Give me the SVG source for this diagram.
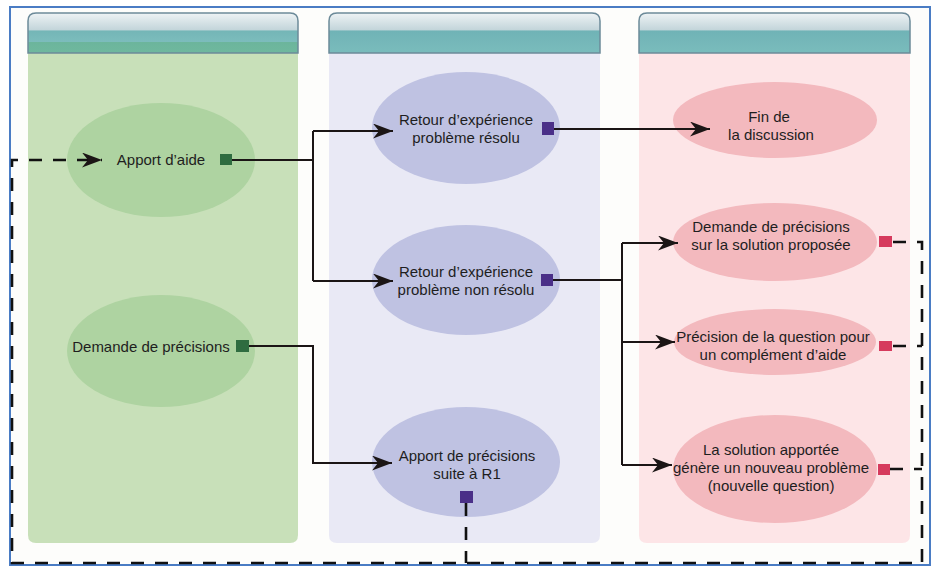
<svg xmlns="http://www.w3.org/2000/svg" width="931" height="567" viewBox="0 0 931 567">
<style>
  .t{font-family:"Liberation Sans",Arial,sans-serif;font-size:15px;fill:#1e1e1e;text-anchor:middle}
  .solid{fill:none;stroke:#1b1515;stroke-width:2}
  .dash{fill:none;stroke:#111;stroke-width:2.6;stroke-dasharray:13 11}
  .hdr{stroke:#6c8a99;stroke-width:1.5}
  .eg{fill:#aed3a1}
  .ep{fill:#bfc2e2}
  .er{fill:#f3b9be}
  .pg{fill:#2f6c40}
  .pp{fill:#4a2f88}
  .pr{fill:#d63a5d}
</style>
<defs>
  <marker id="arr" markerUnits="userSpaceOnUse" markerWidth="21" markerHeight="15" refX="20" refY="7.5" orient="auto">
    <path d="M0,0 L20,7.5 L0,15 L6,7.5 z" fill="#1b1515"/>
  </marker>
  <linearGradient id="hg1" x1="0" y1="13" x2="0" y2="53" gradientUnits="userSpaceOnUse">
    <stop offset="0" stop-color="#eef3f5"/>
    <stop offset="0.42" stop-color="#c3d5da"/>
    <stop offset="0.45" stop-color="#74b6b7"/>
    <stop offset="0.72" stop-color="#7cbcbc"/>
    <stop offset="0.73" stop-color="#6cb59c"/>
    <stop offset="1" stop-color="#6fb89e"/>
  </linearGradient>
  <linearGradient id="hg2" x1="0" y1="13" x2="0" y2="53" gradientUnits="userSpaceOnUse">
    <stop offset="0" stop-color="#eef3f5"/>
    <stop offset="0.42" stop-color="#c3d5da"/>
    <stop offset="0.45" stop-color="#70b3b6"/>
    <stop offset="1" stop-color="#7abcbc"/>
  </linearGradient>
</defs>
<rect x="0" y="0" width="931" height="567" fill="#ffffff"/>
<rect x="10" y="7" width="920" height="558" fill="#fdfdfb" stroke="#4a7cc4" stroke-width="2"/>

<g id="lane1">
  <path d="M28,53 H298 V535 Q298,543 290,543 H36 Q28,543 28,535 Z" fill="#c8e0b9"/>
  <path class="hdr" d="M28,53 V21 Q28,13 36,13 H290 Q298,13 298,21 V53 Z" fill="url(#hg1)"/>
</g>
<g id="lane2">
  <path d="M329,53 H600 V535 Q600,543 592,543 H337 Q329,543 329,535 Z" fill="#e9e9f5"/>
  <path class="hdr" d="M329,53 V21 Q329,13 337,13 H592 Q600,13 600,21 V53 Z" fill="url(#hg2)"/>
</g>
<g id="lane3">
  <path d="M639,53 H910 V535 Q910,543 902,543 H647 Q639,543 639,535 Z" fill="#fde5e7"/>
  <path class="hdr" d="M639,53 V21 Q639,13 647,13 H902 Q910,13 910,21 V53 Z" fill="url(#hg2)"/>
</g>

<g id="n-apport-aide">
  <ellipse class="eg" cx="161" cy="160" rx="94" ry="57"/>
  <text class="t" x="161" y="165">Apport d’aide</text>
  <rect class="pg" x="220" y="154" width="12" height="11"/>
</g>
<g id="n-demande-precisions">
  <ellipse class="eg" cx="161" cy="351" rx="94" ry="56"/>
  <text class="t" x="151" y="352">Demande de précisions</text>
  <rect class="pg" x="236" y="340" width="13" height="12"/>
</g>
<g id="n-retour-resolu">
  <ellipse class="ep" cx="466" cy="128" rx="94" ry="56"/>
  <text class="t" x="466" y="125">Retour d’expérience</text>
  <text class="t" x="466" y="143">problème résolu</text>
  <rect class="pp" x="542" y="122" width="12" height="13"/>
</g>
<g id="n-retour-non-resolu">
  <ellipse class="ep" cx="466" cy="280" rx="94" ry="55"/>
  <text class="t" x="466" y="277">Retour d’expérience</text>
  <text class="t" x="466" y="295">problème non résolu</text>
  <rect class="pp" x="541" y="274" width="12" height="12"/>
</g>
<g id="n-apport-precisions">
  <ellipse class="ep" cx="466" cy="462" rx="94" ry="55"/>
  <text class="t" x="467" y="461">Apport de précisions</text>
  <text class="t" x="467" y="479">suite à R1</text>
  <rect class="pp" x="460" y="491" width="13" height="12"/>
</g>
<g id="n-fin">
  <ellipse class="er" cx="775" cy="120" rx="102" ry="38"/>
  <text class="t" x="769" y="122">Fin de</text>
  <text class="t" x="771" y="140">la discussion</text>
</g>
<g id="n-demande-solution">
  <ellipse class="er" cx="775" cy="242" rx="102" ry="39"/>
  <text class="t" x="771" y="232">Demande de précisions</text>
  <text class="t" x="771" y="250">sur la solution proposée</text>
  <rect class="pr" x="879" y="236" width="13" height="11"/>
</g>
<g id="n-precision-question">
  <ellipse class="er" cx="775" cy="342" rx="101" ry="33"/>
  <text class="t" x="773" y="342">Précision de la question pour</text>
  <text class="t" x="773" y="360">un complément d’aide</text>
  <rect class="pr" x="879" y="341" width="13" height="10"/>
</g>
<g id="n-nouveau-probleme">
  <ellipse class="er" cx="775" cy="469" rx="102" ry="54"/>
  <text class="t" x="771" y="455">La solution apportée</text>
  <text class="t" x="771" y="473">génère un nouveau problème</text>
  <text class="t" x="771" y="491">(nouvelle question)</text>
  <rect class="pr" x="878" y="464" width="12" height="11"/>
</g>

<g id="connectors">
  <path class="solid" d="M232,160 H313"/>
  <path class="solid" d="M313,131 V281"/>
  <path class="solid" d="M313,131 H393" marker-end="url(#arr)"/>
  <path class="solid" d="M313,281 H393" marker-end="url(#arr)"/>
  <path class="solid" d="M249,346 H313 V463 H392" marker-end="url(#arr)"/>
  <path class="solid" d="M554,129 H710" marker-end="url(#arr)"/>
  <path class="solid" d="M553,280 H622"/>
  <path class="solid" d="M622,243 V465"/>
  <path class="solid" d="M622,243 H678" marker-end="url(#arr)"/>
  <path class="solid" d="M622,342 H675" marker-end="url(#arr)"/>
  <path class="solid" d="M622,465 H672" marker-end="url(#arr)"/>
  <path class="dash" d="M893,242 H922 V563 H12 V160 H102" marker-end="url(#arr)"/>
  <path class="dash" d="M893,346 H922"/>
  <path class="dash" d="M890,469 H922"/>
  <path class="dash" d="M466,503 V563"/>
</g>
</svg>
